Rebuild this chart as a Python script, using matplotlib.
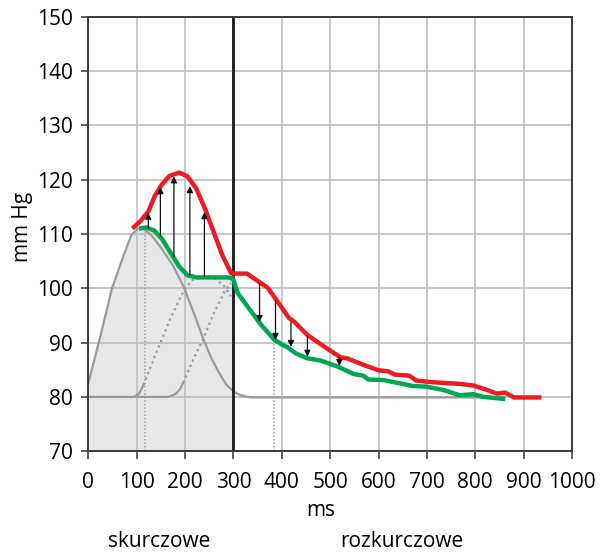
import matplotlib
matplotlib.use("Agg")
import matplotlib.pyplot as plt

plt.rcParams['font.family'] = ['Open Sans', 'DejaVu Sans']

# ---- data ----
red_x = [91, 107, 124, 137, 151, 168, 188, 205, 223, 241, 259, 277, 295, 300, 328, 351, 371, 391, 415,
         425, 453, 487, 521, 535, 569, 600, 620, 634, 664, 678, 711, 768, 796, 824, 845, 862, 880, 937]
red_y = [111.0, 112.3, 114.1, 116.9, 119.0, 120.7, 121.3, 120.6, 118.4, 114.7, 110.4, 106.1, 102.8, 102.7,
         102.7, 101.3, 100.1, 97.6, 94.5, 93.9, 91.4, 89.3, 87.3, 87.1, 85.9, 84.9, 84.7, 84.1, 83.9,
         83.0, 82.7, 82.4, 82.1, 81.3, 80.6, 80.8, 79.9, 79.9]

green_x = [105, 120, 137, 154, 171, 188, 205, 223, 288, 299, 309, 332, 358, 385, 401, 411, 429, 453, 480,
           515, 549, 569, 579, 610, 644, 671, 698, 733, 768, 796, 817, 862]
green_y = [111.0, 111.2, 110.6, 108.9, 106.4, 104.0, 102.4, 102.0, 102.0, 101.8, 99.1, 96.3, 93.2, 90.5,
           89.6, 89.2, 88.0, 87.1, 86.7, 85.6, 84.2, 83.9, 83.2, 83.1, 82.5, 82.0, 81.9, 81.3, 80.3,
           80.5, 80.0, 79.6]

# first (solid) gray wave
wave1_x = [0, 25, 49, 72, 89, 103, 115, 130, 150, 175, 197, 220, 238, 255, 270, 285, 300, 315, 335, 860]
wave1_y = [82.5, 91.2, 100.0, 105.8, 109.8, 111.0, 110.9, 109.8, 107.5, 104.2, 100.3, 95.0, 90.6, 87.0,
           84.5, 82.3, 81.0, 80.3, 79.9, 79.9]

# second wave: solid foot, dotted remainder
wave2_solid_x = [0, 95, 105, 114]
wave2_solid_y = [80.0, 80.0, 80.6, 82.2]
wave2_dot_x = [114, 140, 170, 198, 215, 235, 262, 280, 295]
wave2_dot_y = [82.2, 88.0, 94.5, 99.7, 101.5, 102.0, 101.8, 100.5, 98.5]

# third wave: solid foot, dotted remainder
wave3_solid_x = [100, 165, 180, 190, 196]
wave3_solid_y = [80.0, 80.0, 80.5, 81.5, 82.6]
wave3_dot_x = [196, 215, 237, 260, 281, 295]
wave3_dot_y = [82.6, 86.5, 90.6, 95.5, 99.3, 101.0]

# dotted verticals
vdot_x = [117, 384]
vdot_top = [111.2, 90.5]

# arrows (reflected wave)
up_x = [124, 149, 177, 210, 240]
up_from = [111.0, 109.8, 105.8, 102.4, 102.2]
up_to = [113.9, 118.6, 120.6, 118.8, 114.0]
down_x = [354, 387, 419, 453, 519]
down_from = [100.9, 97.8, 93.8, 91.2, 87.3]
down_to = [93.8, 90.5, 89.2, 87.4, 85.7]

x_ticks = [0, 100, 200, 300, 400, 500, 600, 700, 800, 900, 1000]
y_ticks = [70, 80, 90, 100, 110, 120, 130, 140, 150]
systole_end = 300

RED = '#ed1c24'
GREEN = '#00a651'
GRAY = '#9a9a9a'

fig = plt.figure(figsize=(6.0, 5.52), dpi=100)
ax = fig.add_axes([0.1472, 0.1826, 0.8061, 0.7871])
ax.set_xlim(0, 1000)
ax.set_ylim(70, 150)

# shaded systolic area: under wave1 until green starts, then under green up to 300
sys_green = [(x, y) for x, y in zip(green_x, green_y) if x <= systole_end]
fx = [x for x in wave1_x if x < green_x[0]] + [p[0] for p in sys_green] + [systole_end]
fy = [y for x, y in zip(wave1_x, wave1_y) if x < green_x[0]] + [p[1] for p in sys_green] + [sys_green[-1][1]]
ax.fill_between(fx, 70, fy, color='#e6e7e8', zorder=0.2, lw=0)

ax.set_axisbelow(True)
ax.grid(True, color='#bdbdbd', lw=1.2)

kw = dict(solid_joinstyle='round', dash_joinstyle='round')
ax.plot(wave1_x, wave1_y, color=GRAY, lw=1.6, zorder=2, **kw)
ax.plot(wave2_solid_x, wave2_solid_y, color=GRAY, lw=1.6, zorder=2, **kw)
ax.plot(wave2_dot_x, wave2_dot_y, color=GRAY, lw=1.6, ls=(0, (1, 1.6)), zorder=2, **kw)
ax.plot(wave3_solid_x, wave3_solid_y, color=GRAY, lw=1.6, zorder=2, **kw)
ax.plot(wave3_dot_x, wave3_dot_y, color=GRAY, lw=1.6, ls=(0, (1, 1.6)), zorder=2, **kw)
for vx, vt in zip(vdot_x, vdot_top):
    ax.plot([vx, vx], [70, vt], color=GRAY, lw=1.1, ls=(0, (1, 1.3)), zorder=2)

ax.axvline(systole_end, color='#1a1a1a', lw=2.0, zorder=2.5)

ax.plot(green_x, green_y, color=GREEN, lw=3.2, zorder=3, solid_capstyle='butt', **kw)
ax.plot(red_x, red_y, color=RED, lw=3.2, zorder=3.1, solid_capstyle='butt', **kw)

aprops = dict(arrowstyle='-|>', color='#111111', lw=0.9, mutation_scale=9, shrinkA=0, shrinkB=0)
for x, a, b in zip(up_x, up_from, up_to):
    ax.annotate('', xy=(x, b), xytext=(x, a), arrowprops=aprops, zorder=4)
for x, a, b in zip(down_x, down_from, down_to):
    ax.annotate('', xy=(x, b), xytext=(x, a), arrowprops=aprops, zorder=4)

ax.set_xticks(x_ticks)
ax.set_yticks(y_ticks)
ax.tick_params(axis='x', direction='out', length=6, width=1.2, color='#444444', pad=9, labelsize=15)
ax.tick_params(axis='y', direction='out', length=5, width=1.2, color='#444444', pad=6, labelsize=15)
for s in ax.spines.values():
    s.set_color('#3a3a3a')
    s.set_linewidth(1.4)

fig.text(0.535, 0.0652, 'ms', ha='center', va='baseline', fontsize=15)
fig.text(0.265, 0.0096, 'skurczowe', ha='center', va='baseline', fontsize=15)
fig.text(0.670, 0.0096, 'rozkurczowe', ha='center', va='baseline', fontsize=15)
fig.text(0.037, 0.589, 'mm Hg', ha='center', va='center', rotation=90, fontsize=15)

fig.savefig('out.png', dpi=100)
